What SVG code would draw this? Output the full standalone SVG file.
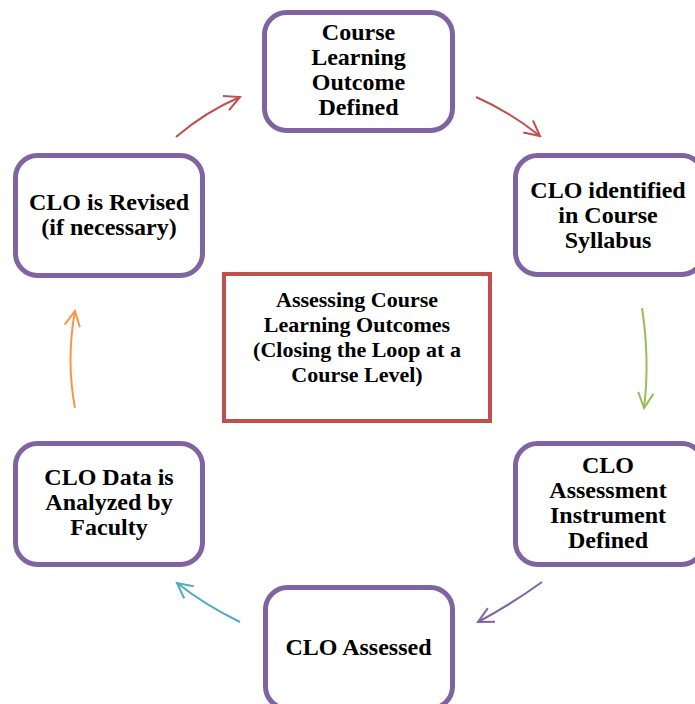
<svg xmlns="http://www.w3.org/2000/svg" width="695" height="704" viewBox="0 0 695 704">
<style>
.node rect{fill:#fff;stroke:#8064A2;stroke-width:5}
.center rect{fill:#fff;stroke:#C0504D;stroke-width:4}
text{font-family:"Liberation Serif","Times New Roman",serif;font-weight:bold;fill:#000;text-anchor:middle}
.node text{font-size:24px}
.center text{font-size:22px}
.conn path{fill:none;stroke-width:2}
</style>
<defs>
<marker id="ar" markerUnits="userSpaceOnUse" markerWidth="40" markerHeight="40" refX="0" refY="0" viewBox="-20 -20 40 40" orient="auto" overflow="visible"><path d="M-15.2,-7.7 L0,0 L-15.2,7.7" fill="none" stroke="#C0504D" stroke-width="2"/></marker>
<marker id="ag" markerUnits="userSpaceOnUse" markerWidth="40" markerHeight="40" refX="0" refY="0" viewBox="-20 -20 40 40" orient="auto" overflow="visible"><path d="M-15.2,-7.7 L0,0 L-15.2,7.7" fill="none" stroke="#9BBB59" stroke-width="2"/></marker>
<marker id="ap" markerUnits="userSpaceOnUse" markerWidth="40" markerHeight="40" refX="0" refY="0" viewBox="-20 -20 40 40" orient="auto" overflow="visible"><path d="M-15.2,-7.7 L0,0 L-15.2,7.7" fill="none" stroke="#8064A2" stroke-width="2"/></marker>
<marker id="ab" markerUnits="userSpaceOnUse" markerWidth="40" markerHeight="40" refX="0" refY="0" viewBox="-20 -20 40 40" orient="auto" overflow="visible"><path d="M-15.2,-7.7 L0,0 L-15.2,7.7" fill="none" stroke="#4BACC6" stroke-width="2"/></marker>
<marker id="ao" markerUnits="userSpaceOnUse" markerWidth="40" markerHeight="40" refX="0" refY="0" viewBox="-20 -20 40 40" orient="auto" overflow="visible"><path d="M-15.2,-7.7 L0,0 L-15.2,7.7" fill="none" stroke="#F79646" stroke-width="2"/></marker>
</defs>
<rect width="695" height="704" fill="#fff"/>
<g id="connectors" class="conn">
<path d="M176,137 Q205,112 240,97" stroke="#C0504D" marker-end="url(#ar)"/>
<path d="M476,97 Q510,112 540,136" stroke="#C0504D" marker-end="url(#ar)"/>
<path d="M642,308 Q650,360 644,408" stroke="#9BBB59" marker-end="url(#ag)"/>
<path d="M542,582 Q510,605 478,622" stroke="#8064A2" marker-end="url(#ap)"/>
<path d="M240,622 Q205,605 177,583" stroke="#4BACC6" marker-end="url(#ab)"/>
<path d="M75,408 Q66,360 75,311" stroke="#F79646" marker-end="url(#ao)"/>
</g>
<g id="node-defined" class="node">
<rect x="264.5" y="12.5" width="188" height="118" rx="22"/>
<text x="358.5" y="40">Course</text>
<text x="358.5" y="65">Learning</text>
<text x="358.5" y="90">Outcome</text>
<text x="358.5" y="115">Defined</text>
</g>
<g id="node-syllabus" class="node">
<rect x="515.5" y="155.5" width="188" height="119" rx="22"/>
<text x="608" y="198">CLO identified</text>
<text x="608" y="223">in Course</text>
<text x="608" y="248">Syllabus</text>
</g>
<g id="node-instrument" class="node">
<rect x="515.5" y="443.5" width="188" height="121" rx="22"/>
<text x="608" y="473">CLO</text>
<text x="608" y="498">Assessment</text>
<text x="608" y="523">Instrument</text>
<text x="608" y="548">Defined</text>
</g>
<g id="node-assessed" class="node">
<rect x="265.5" y="587.5" width="187" height="121" rx="22"/>
<text x="358.5" y="655">CLO Assessed</text>
</g>
<g id="node-analyzed" class="node">
<rect x="15.5" y="443.5" width="187" height="121" rx="22"/>
<text x="109" y="485">CLO Data is</text>
<text x="109" y="510">Analyzed by</text>
<text x="109" y="535">Faculty</text>
</g>
<g id="node-revised" class="node">
<rect x="15.5" y="155.5" width="187" height="120" rx="22"/>
<text x="109" y="210">CLO is Revised</text>
<text x="109" y="235">(if necessary)</text>
</g>
<g id="center" class="center">
<rect x="224" y="274" width="266" height="147"/>
<text x="357" y="307">Assessing Course</text>
<text x="357" y="332">Learning Outcomes</text>
<text x="357" y="357">(Closing the Loop at a</text>
<text x="357" y="382">Course Level)</text>
</g>
</svg>
